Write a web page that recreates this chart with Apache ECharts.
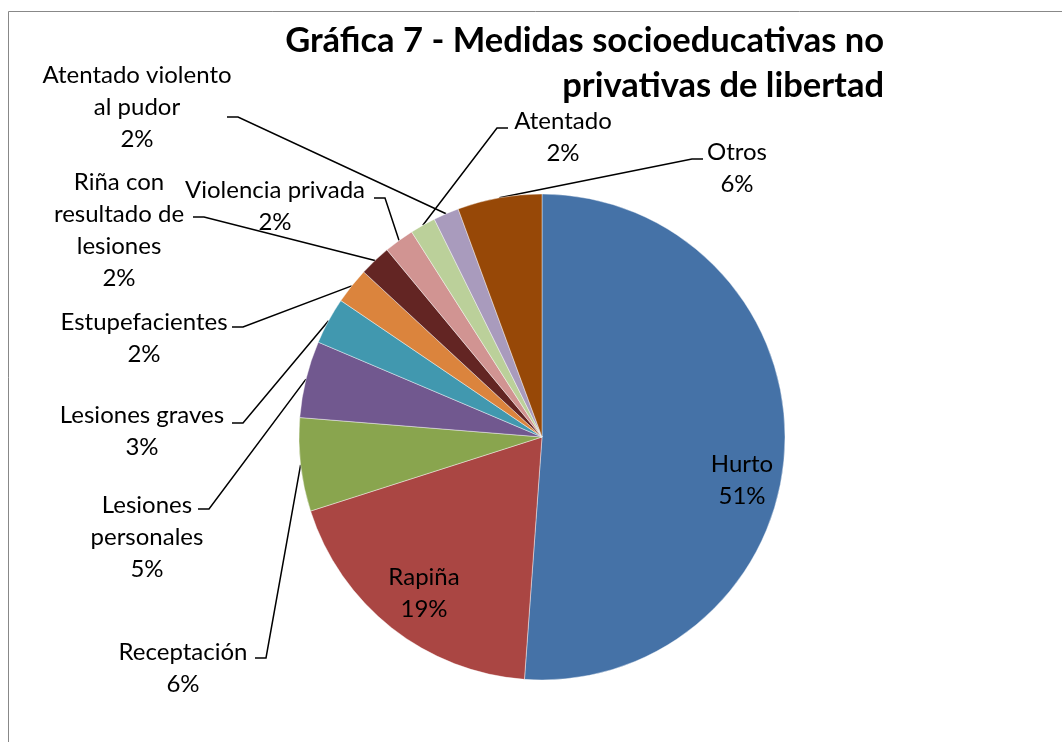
<!DOCTYPE html>
<html><head><meta charset="utf-8">
<script src="https://cdn.jsdelivr.net/npm/echarts@6/dist/echarts.min.js"></script>
<style>html,body{margin:0;padding:0;background:#fff}#c{width:1062px;height:742px}</style>
</head><body><div id="c"></div>
<script>
// ---- data ----
const categories = ['Hurto','Rapiña','Receptación','Lesiones personales','Lesiones graves','Estupefacientes','Riña con resultado de lesiones','Violencia privada','Atentado','Atentado violento al pudor','Otros'];
const values = [51.1, 18.9, 6.2, 5.1, 3.1, 2.4, 2.1, 2.0, 1.7, 1.7, 5.6];
const labelText = ['Hurto','Rapiña','Receptación','Lesiones\npersonales','Lesiones graves','Estupefacientes','Riña con\nresultado de\nlesiones','Violencia privada','Atentado','Atentado violento\nal pudor','Otros'];
const insideLabels = ['Hurto','Rapiña'];
const titleText = 'Gráfica 7 - Medidas socioeducativas no\nprivativas de libertad';

// ---- style / layout ----
const colors = ['#4572A7','#AA4643','#89A54E','#71588F','#4198AF','#DB843D','#632523','#D19492','#BBD09A','#A99BBD','#974807'];
const FONT = 'Lato, "Noto Sans", sans-serif';
const LH = 32;
// label centre x, first-line centre y, leader end point, elbow side
const labelPos = [
  {x:742, y:464},
  {x:424, y:577},
  {x:183, y:652, end:[255,658], dir:1},
  {x:147, y:505, end:[198,509], dir:1},
  {x:142, y:415, end:[232,423], dir:1},
  {x:144, y:322, end:[232,327], dir:1},
  {x:119, y:182, end:[193,217], dir:1},
  {x:275, y:190, end:[374,198], dir:1},
  {x:563, y:121, end:[508,128], dir:-1},
  {x:137, y:75,  end:[227,117], dir:1},
  {x:737, y:152, end:[703,159], dir:-1}
];

const chart = echarts.init(document.getElementById('c'), null, {renderer:'canvas'});
const data = categories.map((n, i) => {
  const d = {name: n, value: values[i], itemStyle: {color: colors[i]}};
  if (insideLabels.indexOf(n) >= 0) {
    d.label = {position: 'inside'};
    d.labelLine = {show: false};
  }
  return d;
});

chart.setOption({
  animation: false,
  backgroundColor: '#fff',
  graphic: [
    {type:'rect', z: 0, silent: true, shape:{x:8.5, y:11.5, width:2000, height:2000},
     style:{fill:'none', stroke:'#888888', lineWidth:1}},
    {type:'text', z: 10, silent: true,
     style:{text: titleText, x: 884, y: 18, align:'right', verticalAlign:'top',
            fontFamily: FONT, fontWeight:'bold', fontSize: 34.5, lineHeight: 45, fill:'#000'}}
  ],
  series: [{
    type: 'pie',
    center: [542, 437],
    radius: 243,
    startAngle: 90,
    clockwise: true,
    avoidLabelOverlap: false,
    silent: true,
    itemStyle: {borderColor: 'rgba(255,255,255,0.7)', borderWidth: 0.6},
    label: {
      show: true,
      color: '#000',
      fontFamily: FONT,
      fontSize: 24,
      lineHeight: LH,
      formatter: p => labelText[p.dataIndex] + '\n' + Math.round(p.percent) + '%'
    },
    labelLine: {show: true, length: 20, length2: 10, smooth: false,
                lineStyle: {color: '#000', width: 1.5}},
    labelLayout: function (params) {
      const p = labelPos[params.dataIndex];
      const res = {x: p.x, y: p.y - LH / 2, align: 'center', verticalAlign: 'top'};
      if (p.end && params.labelLinePoints) {
        const pts = params.labelLinePoints;
        res.labelLinePoints = [pts[0], [p.end[0] + 11 * p.dir, p.end[1]], p.end];
      }
      return res;
    },
    data: data
  }]
});
</script></body></html>
